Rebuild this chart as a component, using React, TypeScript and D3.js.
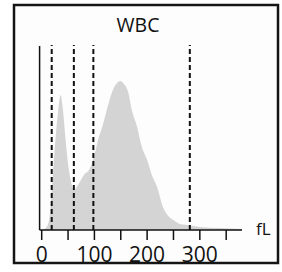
import React from "react";
import * as d3 from "d3";

// histogram (fL, relative count)
const sizes = [0, 8, 14, 20, 26, 31, 36, 40, 45, 50, 55, 61, 70, 80, 92, 100, 108, 116, 126, 135, 143, 149, 156, 164, 171, 181, 190, 200, 209, 219, 230, 240, 250, 262, 276, 300, 338, 380];
const counts = [0, 2, 10, 45, 90, 118, 135, 122, 92, 66, 50, 40, 46, 55, 62, 75, 92, 105, 125, 140, 147, 149, 146, 138, 120, 103, 83, 70, 55, 43, 23, 14, 10, 6, 5, 3, 2, 1];

const discriminators = [19, 61, 98, 281];
const tickValues = [0, 50, 100, 150, 200, 250, 300, 350];
const labelValues = [0, 100, 200, 300];

const W = 282;
const H = 272;
const font = "'Open Sans', 'DejaVu Sans', sans-serif";

const App: React.FC = () => {
  const x = d3.scaleLinear().domain([0, 380]).range([41.7, 242]);
  const y = d3.scaleLinear().domain([0, 184]).range([230, 46]);

  const pts: [number, number][] = sizes.map((s, i) => [s, counts[i]]);
  const area = d3
    .area<[number, number]>()
    .x((d) => x(d[0]))
    .y0(y(0))
    .y1((d) => y(d[1]))
    .curve(d3.curveMonotoneX);

  return (
    <svg width={W} height={H} style={{ position: "absolute", left: 0, top: 0, background: "#fff" }}>
      <rect x={14} y={5} width={264} height={258} fill="#fdfdfd" stroke="#151515" strokeWidth={2.5} />
      <text x={138} y={32} textAnchor="middle" fontFamily={font} fontSize={19.5} fill="#111">
        WBC
      </text>

      <path d={area(pts) || ""} fill="#d4d4d4" />

      {discriminators.map((d) => (
        <line
          key={d}
          x1={x(d)}
          x2={x(d)}
          y1={y(0)}
          y2={y(185)}
          stroke="#111"
          strokeWidth={2}
          strokeDasharray="5,3"
        />
      ))}

      {/* axes */}
      <line x1={x(-4)} x2={x(-4)} y1={y(0)} y2={y(184)} stroke="#111" strokeWidth={1.5} />
      <line x1={x(-4)} x2={x(380)} y1={y(0)} y2={y(0)} stroke="#111" strokeWidth={1.5} />
      {tickValues.map((t) => (
        <line key={t} x1={x(t)} x2={x(t)} y1={y(0)} y2={y(0) + 10} stroke="#111" strokeWidth={1.5} />
      ))}
      {labelValues.map((t) => (
        <text key={t} x={x(t)} y={262} textAnchor="middle" fontFamily={font} fontSize={21} fill="#111">
          {t}
        </text>
      ))}
      <text x={256} y={235} fontFamily={font} fontSize={17} fill="#111">
        fL
      </text>
    </svg>
  );
};

export default App;
